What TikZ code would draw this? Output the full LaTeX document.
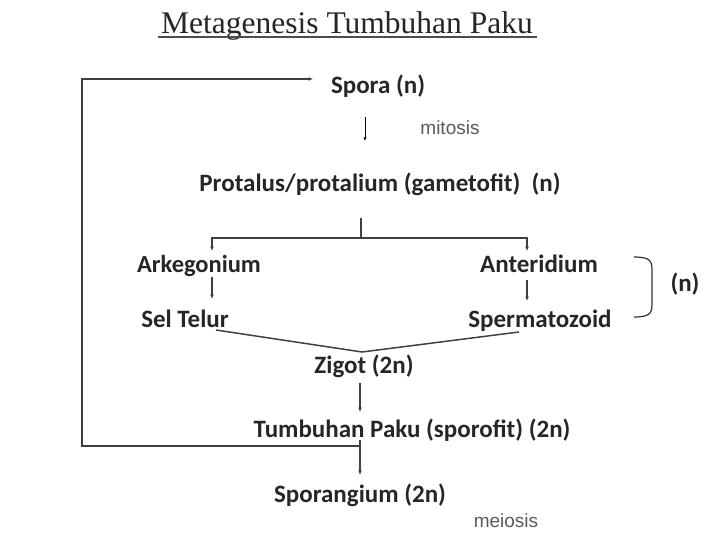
\documentclass[tikz,border=0pt]{standalone}
\usepackage{fontspec}
\setmainfont{Carlito}
\newfontfamily\titlefont{Liberation Serif}
\newfontfamily\smallfont{Liberation Sans}
\usetikzlibrary{arrows.meta}
\begin{document}
\begin{tikzpicture}[x=1pt,y=-1pt,
  lbl/.style={font=\fontsize{25}{27}\selectfont\bfseries, text=black!85, inner sep=0pt, text height=17pt, text depth=5pt, anchor=center},
  note/.style={font=\fontsize{19}{21}\selectfont\smallfont, text=black!65, inner sep=0pt, text height=13pt, text depth=4pt},
  con/.style={line width=1.5pt, draw=black!75},
  arr/.style={con, -{Latex[length=4.5pt,width=4pt]}}]
\useasboundingbox (0,0) rectangle (720,540);
\node[inner sep=0pt, font=\fontsize{31.5}{34}\selectfont\titlefont, text=black!85, text height=21pt, text depth=6pt] (title) at (347,26) {Metagenesis Tumbuhan Paku};
\draw[line width=1.5pt, black!70] (158,37) -- (537,37);

\node[lbl] (spora) at (378,88) {Spora (n)};
\coordinate (sa) at (365,117);
\coordinate (sb) at (365,141);
\draw[line width=0.8pt, -{Latex[length=3.5pt,width=3pt]}] (sa) -- (sb);
\node[note] (mitosis) at (450,130) {mitosis};

\node[lbl] (prot) at (380,186) {Protalus/protalium (gametofit)~~(n)};
\coordinate (pt) at (361,218);
\coordinate (pj) at (361,238);
\node[lbl, font=\fontsize{24.5}{27}\selectfont\bfseries] (ark) at (199,266) {Arkegonium};
\node[lbl] (ant) at (539,266) {Anteridium};
\draw[con] (pt) -- (pj);
\draw[arr] (pj) -- (212,238) -- (212,251);
\draw[arr] (pj) -- (527,238) -- (527,251);

\node[lbl] (sel) at (185,321) {Sel Telur};
\node[lbl] (sperm) at (540,321) {Spermatozoid};
\draw[arr] (212,277) -- (212,299);
\draw[arr] (527,280) -- (527,301);

\draw[line width=1.2pt, black!80] (634,257) .. controls (652,257) and (652,262) .. (652,272) -- (652,302) .. controls (652,312) and (652,317) .. (634,317);
\node[lbl] (nb) at (685,285) {(n)};

\coordinate (zj) at (362,352);
\node[lbl] (zigot) at (364,367) {Zigot (2n)};
\draw[con] (216,330) -- (zj) -- (519,332);

\node[lbl] (tumb) at (412,431) {Tumbuhan Paku (sporofit) (2n)};
\coordinate (za) at (360,383);
\coordinate (zb) at (360,412);
\draw[arr] (za) -- (zb);

\coordinate (lp) at (360,446);
\draw[arr] (lp) -- (82,446) -- (82,79) -- (313,79);

\node[lbl] (spor) at (360,496) {Sporangium (2n)};
\coordinate (ta) at (360,440);
\coordinate (tb) at (360,475);
\draw[arr] (ta) -- (tb);
\node[note] (meiosis) at (506,523) {meiosis};
\end{tikzpicture}
\end{document}
